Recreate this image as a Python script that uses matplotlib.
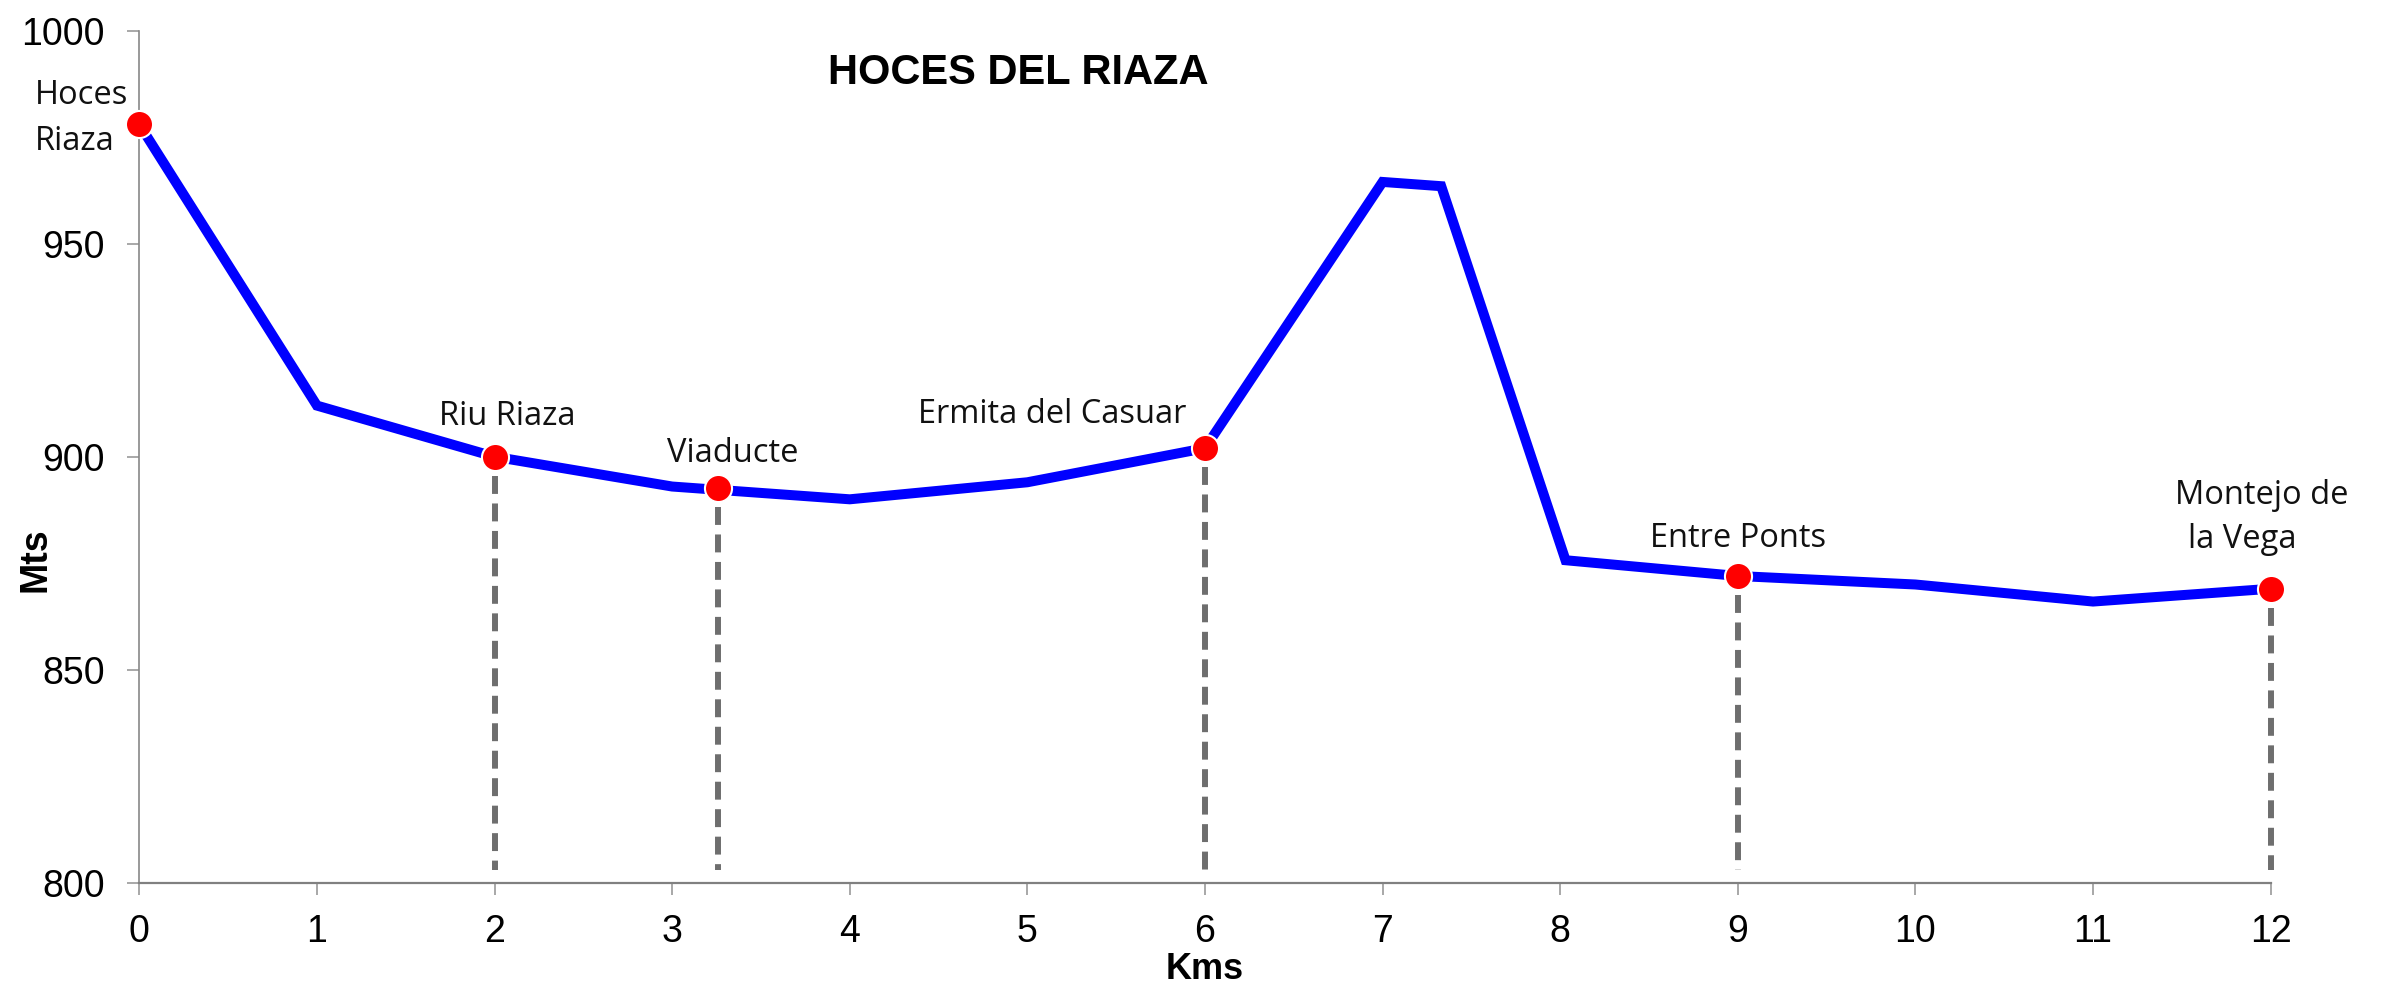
import matplotlib.pyplot as plt

# elevation profile (km, metres)
kms = [0, 1, 2, 3, 4, 5, 6, 7, 7.33, 8.03, 9, 10, 11, 12]
mts = [978, 912, 900, 893, 890, 894, 902, 964.5, 963.5, 875.7, 872, 870, 866, 869]

# named stops
stop_km = [0, 2, 3.26, 6, 9, 12]
stop_m = [978, 900, 892.6, 902, 872, 869]

# label text lines with anchor (km, m)
label_text = ['Hoces', 'Riaza', 'Riu Riaza', 'Viaducte', 'Ermita del Casuar',
              'Entre Ponts', 'Montejo de', 'la Vega']
label_km = [-0.588, -0.588, 2.07, 3.34, 5.14, 9.0, 11.95, 11.84]
label_m = [982.8, 972.0, 907.5, 898.8, 907.9, 878.9, 888.9, 878.6]
label_ha = ['left', 'left', 'center', 'center', 'center', 'center', 'center', 'center']

x_ticks = list(range(0, 13))
y_ticks = [800, 850, 900, 950, 1000]

fig = plt.figure(figsize=(23.83, 9.90), dpi=100)
ax = fig.add_axes([0.05846, 0.10838, 0.8944, 0.8606])

# dashed drops from the stops (not from the first one)
for k, m in zip(stop_km[1:], stop_m[1:]):
    ax.plot([k, k], [m - 4.5, 803], color='#6e6e6e', lw=4.3,
            dashes=(3, 1.6), zorder=1, clip_on=False)

ax.plot(kms, mts, color='#0000ff', lw=7.2, zorder=2, clip_on=False,
        solid_joinstyle='miter')
ax.plot(stop_km, stop_m, 'o', color='#ff0000', ms=19.5, mec='white',
        mew=1.5, zorder=3, clip_on=False)

for t, k, m, ha in zip(label_text, label_km, label_m, label_ha):
    ax.text(k, m, t, ha=ha, va='baseline', fontsize=23.5,
            family='Open Sans', color='#111111')

ax.set_xlim(0, 12)
ax.set_ylim(800, 1000)
ax.set_xticks(x_ticks)
ax.set_yticks(y_ticks)

for s in ['top', 'right']:
    ax.spines[s].set_visible(False)
ax.spines['left'].set_color('#888888')
ax.spines['left'].set_linewidth(1.2)
ax.spines['bottom'].set_color('#808080')
ax.spines['bottom'].set_linewidth(1.6)

ax.tick_params(axis='both', direction='out', length=8.5, width=1.2,
               color='#999999', labelsize=27)
ax.tick_params(axis='x', pad=14)
ax.tick_params(axis='y', pad=16.5)
for lab in ax.get_xticklabels() + ax.get_yticklabels():
    lab.set_family('Liberation Sans')

ax.set_xlabel('Kms', fontsize=26, fontweight='bold', family='Liberation Sans')
ax.xaxis.set_label_coords(0.5, -0.1135)
ax.xaxis.label.set_va('baseline')
ax.set_ylabel('Mts', fontsize=27, fontweight='bold', family='Liberation Sans')
ax.yaxis.set_label_coords(-0.0489, 0.3793)
ax.yaxis.label.set_va('center')
ax.yaxis.label.set_ha('center')

fig.text(0.4272, 1 - 84 / 990, 'HOCES DEL RIAZA', ha='center', va='baseline',
         fontsize=30, fontweight='bold', family='Liberation Sans')

fig.savefig('out.png', dpi=100)
